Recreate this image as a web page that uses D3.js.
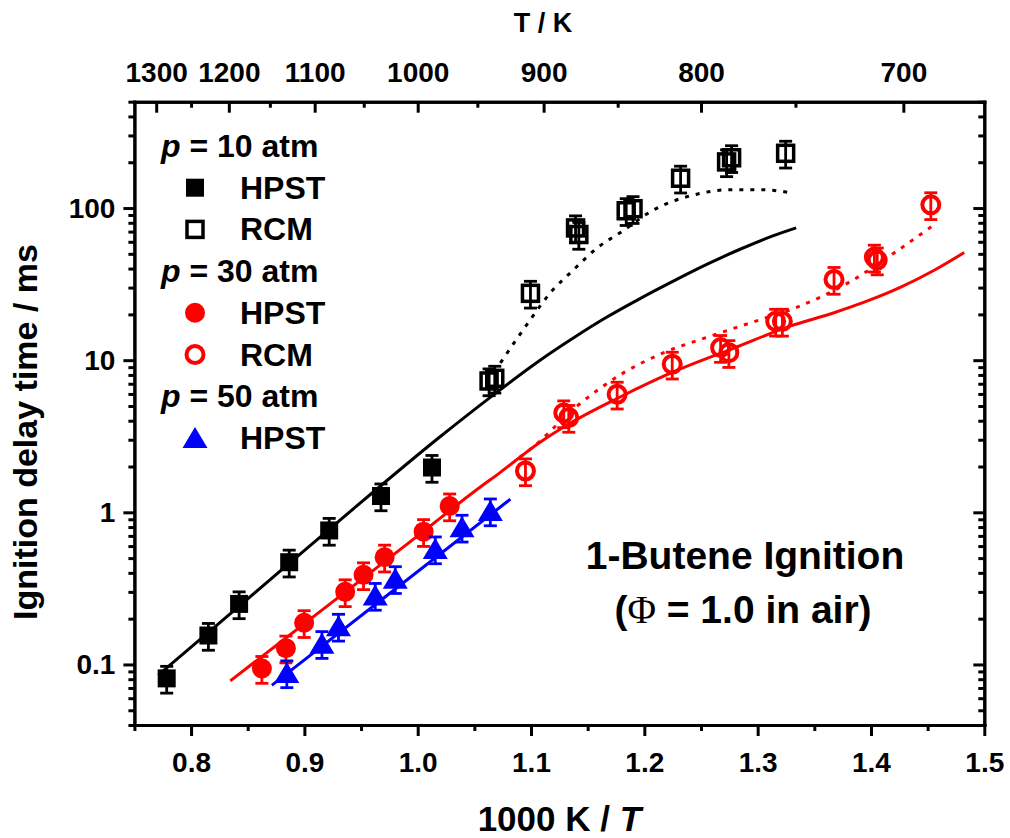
<!DOCTYPE html>
<html>
<head>
<meta charset="utf-8">
<script src="https://cdn.jsdelivr.net/npm/d3@7"></script>
<style>
body { margin: 0; background: #fff; }
svg { font-family: "Liberation Sans", Arial, sans-serif; font-weight: bold; }
</style>
</head>
<body>
<script>
// measured points, x = 1000 K / T, y = ignition delay (ms)
var hpst10X = [0.7785, 0.8153, 0.8424, 0.8866, 0.9219, 0.9676, 1.0126];
var hpst10Y = [0.081, 0.155, 0.25, 0.47, 0.76, 1.28, 1.97];
var rcm10X = [1.063, 1.068, 1.0995, 1.1393, 1.1422, 1.184, 1.190, 1.232, 1.2726, 1.277, 1.3247];
var rcm10Y = [7.3, 7.6, 27.5, 74, 67, 96, 99, 157, 201, 214, 229];
var hpst30X = [0.8625, 0.8837, 0.8998, 0.936, 0.9522, 0.9708, 1.0052, 1.0282];
var hpst30Y = [0.094, 0.128, 0.188, 0.30, 0.388, 0.507, 0.746, 1.10];
var rcm30X = [1.0951, 1.1289, 1.1333, 1.176, 1.2246, 1.2673, 1.2746, 1.3159, 1.3218, 1.3674, 1.403, 1.4055, 1.4528];
var rcm30Y = [1.87, 4.5, 4.2, 5.97, 9.4, 12.1, 11.2, 18.0, 18.0, 33.9, 47.5, 45.5, 105];
var hpst50X = [0.8845, 0.9155, 0.9301, 0.9625, 0.9802, 1.0155, 1.0391, 1.0641];
var hpst50Y = [0.088, 0.137, 0.178, 0.284, 0.366, 0.574, 0.797, 1.02];
var errFrac = 0.2;

// model curves
var sim10X = [0.771, 0.85, 0.93, 1.02, 1.064, 1.108, 1.138, 1.167, 1.197, 1.226, 1.256, 1.285, 1.314, 1.334];
var sim10Y = [0.085, 0.27, 0.87, 3.15, 5.7, 10.0, 14.1, 19.2, 25.6, 33.2, 42.9, 53.8, 65.8, 74];
var sim10rcmX = [1.073, 1.0995, 1.117, 1.1377, 1.1584, 1.1805, 1.2084, 1.2437, 1.2761, 1.3027, 1.3321];
var sim10rcmY = [9.6, 18.5, 27.7, 39.4, 54.7, 70.3, 97.5, 122, 132, 132, 125];
var sim30X = [0.8346, 0.95, 1.0, 1.05, 1.0729, 1.1083, 1.1319, 1.176, 1.226, 1.279, 1.3292, 1.3674, 1.3969, 1.4263, 1.4558, 1.4823];
var sim30Y = [0.078, 0.36, 0.70, 1.37, 1.83, 2.9, 3.75, 5.6, 8.4, 12.0, 16.8, 20.5, 24.5, 30.2, 39, 51];
var sim30rcmX = [1.09, 1.0995, 1.1407, 1.1819, 1.2172, 1.2585, 1.3027, 1.3292, 1.3822, 1.4204, 1.4558];
var sim30rcmY = [2.3, 2.6, 5.0, 8.28, 11.2, 14.4, 18.5, 21.5, 33, 50.7, 77.7];
var sim50X = [0.8713, 0.976, 1.0818];
var sim50Y = [0.073, 0.296, 1.22];

// axis ticks
var xMajor = [0.8, 0.9, 1.0, 1.1, 1.2, 1.3, 1.4, 1.5];
var xMinor = [0.75, 0.85, 0.95, 1.05, 1.15, 1.25, 1.35, 1.45];
var tMajor = [1300, 1200, 1100, 1000, 900, 800, 700];
var tMinor = [1250, 1150, 1050, 950, 850, 750];
var yMajor = [0.1, 1, 10, 100];

var legendRows = [
  {type: "title", p: "10"},
  {type: "sqFill", label: "HPST", color: "#000"},
  {type: "sqOpen", label: "RCM", color: "#000"},
  {type: "title", p: "30"},
  {type: "ciFill", label: "HPST", color: "#ff0000"},
  {type: "ciOpen", label: "RCM", color: "#ff0000"},
  {type: "title", p: "50"},
  {type: "tri", label: "HPST", color: "#0000ff"}
];

var W = 1010, H = 838;
var mLeft = 134.4, mRight = 984.3, mTop = 101.7, mBottom = 725;

var svg = d3.select("body").append("svg")
    .attr("width", W)
    .attr("height", H);

var x = d3.scaleLinear().domain([0.75, 1.5]).range([mLeft, mRight]);
var y = d3.scaleLog().domain([0.04, 500]).range([mBottom, mTop]);

var yMinor = [];
[0.01, 0.1, 1, 10, 100].forEach(function(d) {
  for (var k = 2; k <= 9; k++) {
    var v = +(k * d).toPrecision(3);
    if (v >= 0.04 && v <= 500) yMinor.push(v);
  }
});

function styleAxis(g, fs) {
  g.selectAll("path.domain").attr("stroke-width", 3).attr("stroke-linecap", "square");
  g.selectAll(".tick line").attr("stroke-width", 3);
  g.selectAll(".tick text")
    .attr("font-size", fs)
    .attr("font-weight", "bold")
    .attr("font-family", "Liberation Sans, Arial, sans-serif")
    .attr("fill", "#000");
}

function axisG(tr) {
  return svg.append("g").attr("transform", tr);
}

// bottom axis
var gb = axisG("translate(0," + mBottom + ")");
gb.call(d3.axisBottom(x).tickValues(xMinor).tickSize(6).tickSizeOuter(0).tickFormat(""));
styleAxis(gb, 28);
gb = axisG("translate(0," + mBottom + ")");
gb.call(d3.axisBottom(x).tickValues(xMajor).tickSize(11).tickSizeOuter(0).tickPadding(16).tickFormat(d3.format(".1f")));
styleAxis(gb, 28);

// top axis (temperature)
var gt = axisG("translate(0," + mTop + ")");
gt.call(d3.axisTop(x).tickValues(tMinor.map(function(t) { return 1000 / t; })).tickSize(-6).tickSizeOuter(0).tickFormat(""));
styleAxis(gt, 28);
gt = axisG("translate(0," + mTop + ")");
gt.call(d3.axisTop(x).tickValues(tMajor.map(function(t) { return 1000 / t; })).tickSize(-11).tickSizeOuter(0).tickPadding(20)
  .tickFormat(function(d) { return Math.round(1000 / d); }));
styleAxis(gt, 28);

// left axis
var gl = axisG("translate(" + mLeft + ",0)");
gl.call(d3.axisLeft(y).tickValues(yMinor).tickSize(6).tickSizeOuter(0).tickFormat(""));
styleAxis(gl, 28);
gl = axisG("translate(" + mLeft + ",0)");
gl.call(d3.axisLeft(y).tickValues(yMajor).tickSize(11).tickSizeOuter(0).tickPadding(8)
  .tickFormat(function(d) { return d < 1 ? d.toFixed(1) : d3.format("d")(d); }));
styleAxis(gl, 28);

// right axis
var gr = axisG("translate(" + mRight + ",0)");
gr.call(d3.axisRight(y).tickValues(yMinor).tickSize(-6).tickSizeOuter(0).tickFormat(""));
styleAxis(gr, 28);
gr = axisG("translate(" + mRight + ",0)");
gr.call(d3.axisRight(y).tickValues(yMajor).tickSize(-11).tickSizeOuter(0).tickFormat(""));
styleAxis(gr, 28);

// axis titles
svg.append("text")
    .attr("x", 543)
    .attr("y", 32)
    .attr("text-anchor", "middle")
    .attr("font-size", 27)
    .text("T / K");

var xt = svg.append("text")
    .attr("x", (mLeft + mRight) / 2)
    .attr("y", 831)
    .attr("text-anchor", "middle")
    .attr("font-size", 35);
xt.append("tspan").text("1000 K / ");
xt.append("tspan").attr("font-style", "italic").text("T");

svg.append("text")
    .attr("transform", "translate(37,432) rotate(-90)")
    .attr("text-anchor", "middle")
    .attr("font-size", 34)
    .text("Ignition delay time / ms");

// model lines
function pts(xs, ys) {
  return xs.map(function(v, i) { return [v, ys[i]]; });
}
var line = d3.line()
    .x(function(d) { return x(d[0]); })
    .y(function(d) { return y(d[1]); })
    .curve(d3.curveMonotoneX);

var sims = [
  {xs: sim10X, ys: sim10Y, color: "#000", dash: null},
  {xs: sim10rcmX, ys: sim10rcmY, color: "#000", dash: "4,7"},
  {xs: sim30X, ys: sim30Y, color: "#ff0000", dash: null},
  {xs: sim30rcmX, ys: sim30rcmY, color: "#ff0000", dash: "4,7"},
  {xs: sim50X, ys: sim50Y, color: "#0000ff", dash: null}
];
sims.forEach(function(s) {
  svg.append("path")
      .attr("d", line(pts(s.xs, s.ys)))
      .attr("fill", "none")
      .attr("stroke", s.color)
      .attr("stroke-width", 3)
      .attr("stroke-dasharray", s.dash);
});

// markers
var triPath = "M0,-11L12.5,10L-12.5,10Z";
function marker(g, type, color) {
  if (type == "sqFill") {
    g.append("rect").attr("x", -9).attr("y", -9).attr("width", 18).attr("height", 18).attr("fill", color);
  } else if (type == "sqOpen") {
    g.append("rect").attr("x", -8).attr("y", -8).attr("width", 16).attr("height", 16)
      .attr("fill", "none").attr("stroke", color).attr("stroke-width", 3.5);
  } else if (type == "ciFill") {
    g.append("circle").attr("r", 10).attr("fill", color);
  } else if (type == "ciOpen") {
    g.append("circle").attr("r", 8.5).attr("fill", "none").attr("stroke", color).attr("stroke-width", 4);
  } else if (type == "tri") {
    g.append("path").attr("d", triPath).attr("fill", color);
  }
}

var sets = [
  {xs: hpst10X, ys: hpst10Y, type: "sqFill", color: "#000"},
  {xs: rcm10X, ys: rcm10Y, type: "sqOpen", color: "#000"},
  {xs: hpst30X, ys: hpst30Y, type: "ciFill", color: "#ff0000"},
  {xs: rcm30X, ys: rcm30Y, type: "ciOpen", color: "#ff0000"},
  {xs: hpst50X, ys: hpst50Y, type: "tri", color: "#0000ff"}
];

sets.forEach(function(s) {
  var data = pts(s.xs, s.ys);
  var eb = svg.append("g")
      .attr("stroke", s.color)
      .attr("stroke-width", 2.8)
      .attr("fill", "none");
  data.forEach(function(d) {
    var cx = x(d[0]), y1 = y(d[1] * (1 + errFrac)), y2 = y(d[1] * (1 - errFrac));
    eb.append("line").attr("x1", cx).attr("x2", cx).attr("y1", y1).attr("y2", y2);
    eb.append("line").attr("x1", cx - 6.5).attr("x2", cx + 6.5).attr("y1", y1).attr("y2", y1);
    eb.append("line").attr("x1", cx - 6.5).attr("x2", cx + 6.5).attr("y1", y2).attr("y2", y2);
  });
  svg.append("g").selectAll("g")
      .data(data)
      .enter()
      .append("g")
      .attr("transform", function(d) { return "translate(" + x(d[0]) + "," + y(d[1]) + ")"; })
      .each(function() { marker(d3.select(this), s.type, s.color); });
});

// legend
var lg = svg.append("g");
legendRows.forEach(function(r, i) {
  var base = 157 + i * 41.7;
  if (r.type == "title") {
    var t = lg.append("text")
        .attr("x", 161)
        .attr("y", base)
        .attr("font-size", 32);
    t.append("tspan").attr("font-style", "italic").text("p");
    t.append("tspan").text(" = " + r.p + " atm");
  } else {
    var m = lg.append("g").attr("transform", "translate(195," + (base - 11) + ")");
    marker(m, r.type, r.color);
    lg.append("text")
        .attr("x", 240)
        .attr("y", base)
        .attr("font-size", 32)
        .text(r.label);
  }
});

// annotation
svg.append("text")
    .attr("x", 745)
    .attr("y", 569)
    .attr("text-anchor", "middle")
    .attr("font-size", 39)
    .text("1-Butene Ignition");
var an = svg.append("text")
    .attr("x", 743)
    .attr("y", 623)
    .attr("text-anchor", "middle")
    .attr("font-size", 39);
an.append("tspan").text("(");
an.append("tspan").attr("font-family", "Liberation Serif, DejaVu Serif, serif").attr("font-weight", "normal").text("\u03A6");
an.append("tspan").text(" = 1.0 in air)");
</script>
</body>
</html>
